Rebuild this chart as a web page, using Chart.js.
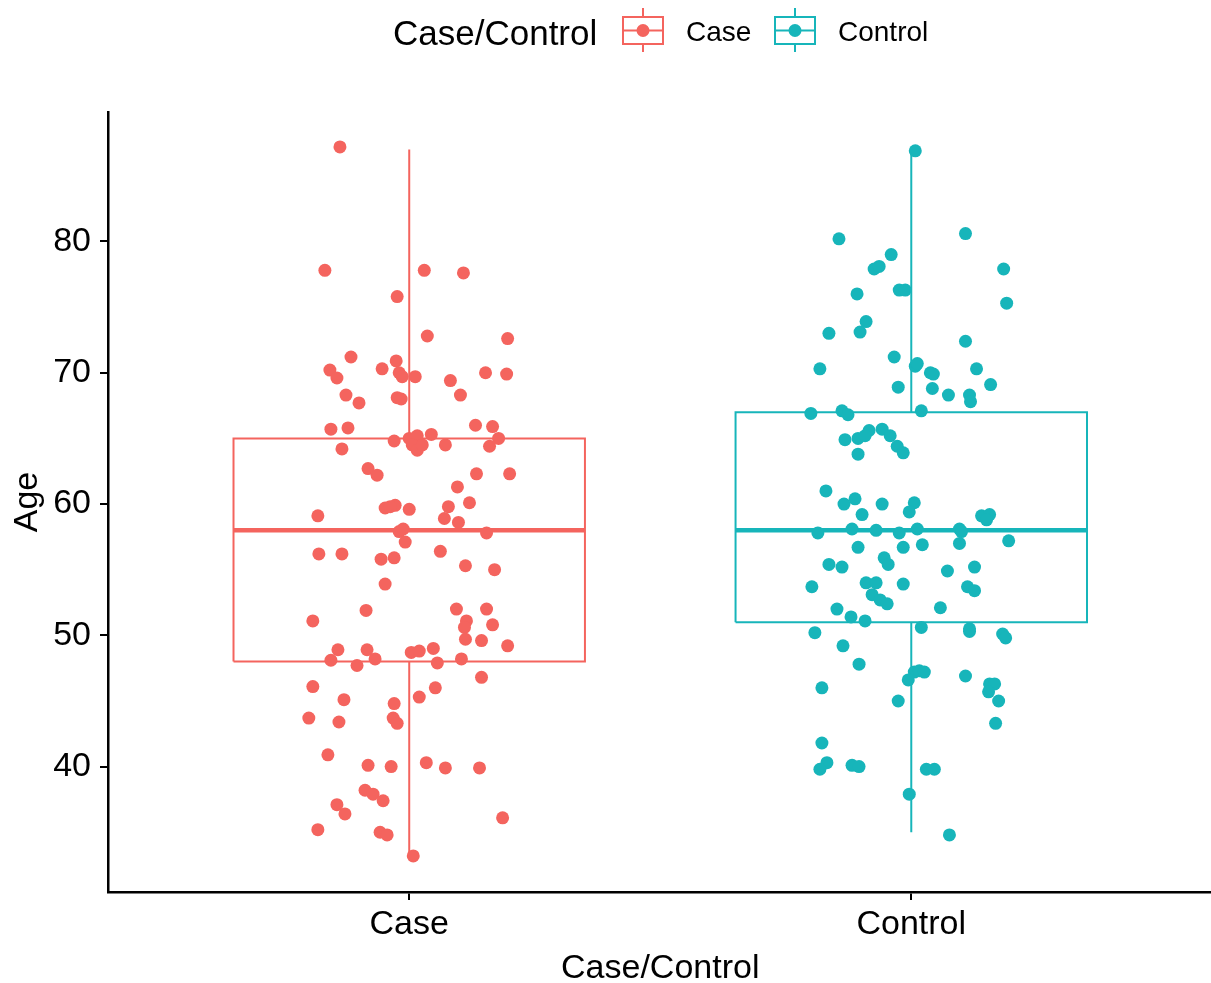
<!DOCTYPE html>
<html>
<head>
<meta charset="utf-8">
<script src="https://cdn.jsdelivr.net/npm/chart.js@4.4.1/dist/chart.umd.min.js"></script>
<style>
    body { margin: 0; background: #fff; overflow: hidden; }
    #wrap { position: relative; width: 1211px; height: 983px; overflow: hidden; }
    #ageChart { display: block; }
    .lg { position: absolute; font-family: "Liberation Sans", Arial, sans-serif; color: #000; white-space: nowrap; }
    .lg-title { left: 393px; top: 13px; font-size: 35px; line-height: 40px; }
    .lg-text { font-size: 28px; line-height: 32px; top: 16px; }
    .lg-key { position: absolute; top: 0; }
</style>
</head>
<body>
<div id="wrap">
    <canvas id="ageChart" width="1219" height="983"></canvas>
    <div class="lg lg-title">Case/Control</div>
    <svg class="lg-key" id="keyCase" style="left:620px" width="46" height="60"></svg>
    <div class="lg lg-text" style="left:686px">Case</div>
    <svg class="lg-key" id="keyControl" style="left:772px" width="46" height="60"></svg>
    <div class="lg lg-text" style="left:838px">Control</div>
</div>
<script>
// kategori dan tick
const categories = ['Case', 'Control'];
const yTicks = [40, 50, 60, 70, 80];
const colors = ['#F4645E', '#17B5BA'];

// statistik boxplot (Q1, median, Q3, ujung whisker)
const boxLow = [48.0, 51.0];
const boxMid = [58.0, 58.0];
const boxHigh = [65.0, 67.0];
const whiskerLow = [33.2, 35.0];
const whiskerHigh = [87.0, 86.9];

// titik jitter: geseran x dari posisi kategori, dan umur
const caseJitter = [-0.138, -0.168, 0.030, 0.108, -0.024, 0.036, 0.196, -0.116, -0.158, -0.144,
    -0.026, -0.054, -0.020, -0.014, 0.012, 0.082, 0.152, 0.194, -0.126, -0.100,
    -0.024, -0.016, 0.102, -0.156, -0.122, 0.044, 0.132, 0.166, 0.178, -0.030,
    0.000, 0.016, 0.006, 0.016, 0.026, 0.072, 0.160, -0.134, -0.082, -0.064,
    0.134, 0.200, 0.096, -0.182, -0.048, -0.028, -0.038, 0.000, 0.078, 0.120,
    0.070, 0.098, -0.020, -0.012, 0.154, -0.008, -0.180, -0.134, 0.062, -0.056,
    -0.030, 0.112, 0.170, -0.048, -0.086, 0.094, 0.154, -0.192, 0.114, 0.110,
    0.166, 0.112, 0.144, -0.142, -0.084, 0.196, 0.004, 0.020, 0.048, -0.156,
    -0.104, -0.068, 0.056, 0.104, 0.144, -0.192, 0.052, -0.130, 0.020, -0.030,
    -0.200, -0.140, -0.032, -0.024, -0.162, -0.082, -0.036, 0.034, 0.072, 0.140,
    -0.088, -0.072, -0.052, -0.144, -0.128, 0.186, -0.182, -0.058, -0.044, 0.008];
const caseAge = [87.2, 77.8, 77.8, 77.6, 75.8, 72.8, 72.6, 71.2, 70.2, 69.6,
    70.9, 70.3, 70.0, 69.7, 69.7, 69.4, 70.0, 69.9, 68.3, 67.7,
    68.1, 68.0, 68.3, 65.7, 65.8, 65.3, 66.0, 65.9, 65.0, 64.8,
    65.0, 65.2, 64.5, 64.1, 64.5, 64.5, 64.4, 64.2, 62.7, 62.2,
    62.3, 62.3, 61.3, 59.1, 59.7, 59.9, 59.8, 59.6, 59.8, 60.1,
    58.9, 58.6, 57.9, 58.1, 57.8, 57.1, 56.2, 56.2, 56.4, 55.8,
    55.9, 55.3, 55.0, 53.9, 51.9, 52.0, 52.0, 51.1, 51.1, 50.6,
    50.8, 49.7, 49.6, 48.9, 48.9, 49.2, 48.7, 48.8, 49.0, 48.1,
    47.7, 48.2, 47.9, 48.2, 46.8, 46.1, 46.0, 45.1, 45.3, 44.8,
    43.7, 43.4, 43.7, 43.3, 40.9, 40.1, 40.0, 40.3, 39.9, 39.9,
    38.2, 37.9, 37.4, 37.1, 36.4, 36.1, 35.2, 35.0, 34.8, 33.2];

const controlJitter = [0.008, -0.144, 0.108, -0.040, -0.074, -0.064, 0.184, -0.108, -0.024, -0.012,
    0.190, -0.090, -0.102, -0.164, 0.108, -0.182, -0.034, 0.008, 0.012, 0.038,
    0.044, 0.130, -0.026, 0.042, 0.074, 0.116, 0.118, 0.158, -0.200, -0.138,
    -0.126, 0.020, -0.132, -0.106, -0.084, -0.092, -0.058, -0.042, -0.028, -0.016,
    -0.106, -0.170, -0.134, -0.112, -0.098, -0.058, 0.006, -0.004, 0.140, 0.156,
    0.150, -0.186, -0.118, -0.070, -0.024, 0.012, 0.096, 0.096, 0.100, 0.194,
    -0.106, 0.022, -0.016, -0.164, -0.138, -0.054, -0.046, 0.072, 0.126, -0.198,
    -0.090, -0.070, -0.078, -0.062, -0.048, -0.016, 0.112, 0.126, -0.148, -0.120,
    -0.092, 0.058, -0.192, 0.020, 0.116, 0.116, 0.182, 0.188, -0.136, -0.104,
    0.006, 0.016, -0.006, 0.026, 0.108, 0.156, 0.166, 0.154, 0.174, -0.026,
    -0.178, 0.168, -0.178, -0.168, -0.182, -0.118, -0.104, 0.030, 0.046, -0.004, 0.076];
const controlAge = [86.9, 80.2, 80.6, 79.0, 77.9, 78.1, 77.9, 76.0, 76.3, 76.3,
    75.3, 73.9, 73.1, 73.0, 72.4, 70.3, 71.2, 70.5, 70.7, 70.0,
    69.9, 70.3, 68.9, 68.8, 68.3, 68.3, 67.8, 69.1, 66.9, 67.1,
    66.8, 67.1, 64.9, 65.0, 65.6, 65.2, 65.7, 65.2, 64.4, 63.9,
    63.8, 61.0, 60.0, 60.4, 59.2, 60.0, 60.1, 59.4, 59.1, 59.2,
    58.8, 57.8, 58.1, 58.0, 57.8, 58.1, 57.0, 58.1, 57.9, 57.2,
    56.7, 56.9, 56.7, 55.4, 55.2, 55.9, 55.4, 54.9, 55.2, 53.7,
    54.0, 54.0, 53.1, 52.7, 52.4, 53.9, 53.7, 53.4, 52.0, 51.4,
    51.1, 52.1, 50.2, 50.6, 50.3, 50.5, 50.1, 49.8, 49.2, 47.8,
    47.2, 47.3, 46.6, 47.2, 46.9, 46.3, 46.3, 45.7, 45.0, 45.0,
    46.0, 43.3, 41.8, 40.3, 39.8, 40.1, 40.0, 39.8, 39.8, 37.9, 34.8];

const halfBox = 0.35;
const jitterSets = [[caseJitter, caseAge], [controlJitter, controlAge]];

function lineSet(points, color, width) {
    return {
        type: 'scatter',
        data: points,
        showLine: true,
        fill: false,
        borderColor: color,
        borderWidth: width,
        borderJoinStyle: 'miter',
        borderCapStyle: 'butt',
        pointRadius: 0,
        pointHoverRadius: 0
    };
}

const datasets = [];
// titik dulu supaya digambar paling atas
jitterSets.forEach(([jit, age], i) => {
    datasets.push({
        type: 'scatter',
        label: categories[i],
        data: jit.map((j, k) => ({ x: i + 1 + j, y: age[k] })),
        backgroundColor: colors[i],
        borderWidth: 0,
        pointRadius: 6.5,
        pointHoverRadius: 6.5
    });
});
categories.forEach((c, i) => {
    const x = i + 1;
    datasets.push(lineSet([
        { x: x - halfBox, y: boxLow[i] }, { x: x + halfBox, y: boxLow[i] },
        { x: x + halfBox, y: boxHigh[i] }, { x: x - halfBox, y: boxHigh[i] },
        { x: x - halfBox, y: boxLow[i] }
    ], colors[i], 2));
    datasets.push(lineSet([{ x: x - halfBox, y: boxMid[i] }, { x: x + halfBox, y: boxMid[i] }], colors[i], 4.5));
    datasets.push(lineSet([{ x: x, y: boxHigh[i] }, { x: x, y: whiskerHigh[i] }], colors[i], 2));
    datasets.push(lineSet([{ x: x, y: boxLow[i] }, { x: x, y: whiskerLow[i] }], colors[i], 2));
});

Chart.defaults.font.family = '"Liberation Sans", Arial, sans-serif';
Chart.defaults.color = '#000';

const ctx = document.getElementById('ageChart').getContext('2d');
const ageChart = new Chart(ctx, {
    type: 'scatter',
    data: { datasets: datasets },
    options: {
        responsive: false,
        animation: false,
        layout: { padding: { top: 112, right: 0, left: 0, bottom: 0 } },
        plugins: { legend: { display: false }, tooltip: { enabled: false } },
        scales: {
            x: {
                type: 'linear',
                min: 0.4,
                max: 2.6,
                afterBuildTicks: scale => { scale.ticks = categories.map((c, i) => ({ value: i + 1 })); },
                afterFit: scale => { scale.height = 91; },
                ticks: {
                    callback: v => categories[v - 1],
                    font: { size: 34 },
                    color: '#000',
                    padding: 4,
                    maxRotation: 0
                },
                grid: { drawOnChartArea: false, drawTicks: true, tickLength: 8, color: '#000', lineWidth: 2 },
                border: { display: true, color: '#000', width: 2.5 },
                title: { display: true, text: 'Case/Control', font: { size: 34, lineHeight: 0.82 }, color: '#000', padding: { top: 0, bottom: 0 } }
            },
            y: {
                type: 'linear',
                min: 30.45,
                max: 89.86,
                afterBuildTicks: scale => { scale.ticks = yTicks.map(v => ({ value: v })); },
                afterFit: scale => { scale.width = 108; },
                ticks: { font: { size: 34 }, color: '#000', padding: 9 },
                grid: { drawOnChartArea: false, drawTicks: true, tickLength: 8, color: '#000', lineWidth: 2 },
                border: { display: true, color: '#000', width: 2.5 },
                title: { display: true, text: 'Age', font: { size: 34, lineHeight: 1.0 }, color: '#000', padding: { top: 11, bottom: 0 } }
            }
        }
    }
});

// ikon legenda (kotak + whisker + titik)
function drawKey(id, color) {
    const svg = document.getElementById(id);
    svg.innerHTML =
        '<line x1="23" y1="8" x2="23" y2="17" stroke="' + color + '" stroke-width="2"/>' +
        '<line x1="23" y1="44" x2="23" y2="52" stroke="' + color + '" stroke-width="2"/>' +
        '<rect x="3" y="17" width="40" height="27" fill="none" stroke="' + color + '" stroke-width="2"/>' +
        '<line x1="3" y1="30.5" x2="43" y2="30.5" stroke="' + color + '" stroke-width="2"/>' +
        '<circle cx="23" cy="30.5" r="6.5" fill="' + color + '"/>';
}
drawKey('keyCase', colors[0]);
drawKey('keyControl', colors[1]);
</script>
</body>
</html>
